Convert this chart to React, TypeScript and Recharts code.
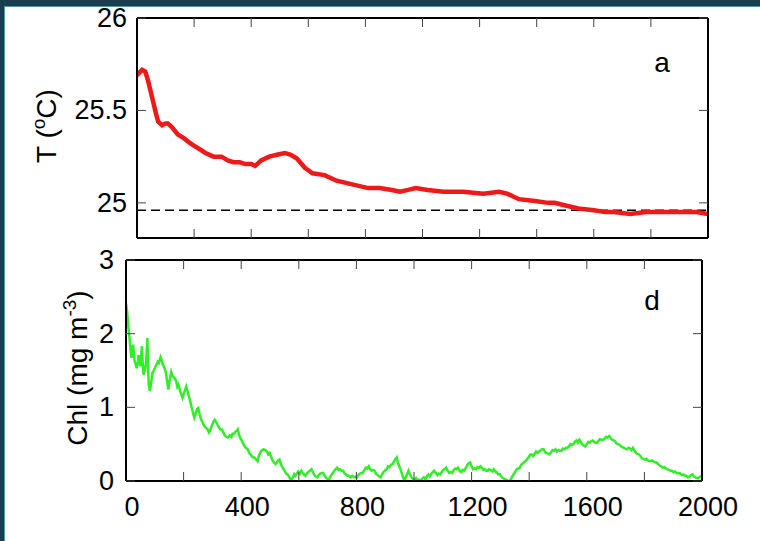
import React from 'react';
import { LineChart, Line, XAxis, YAxis, ReferenceLine } from 'recharts';

const tempDays = [0, 18, 29, 39, 53, 67, 74, 88, 100, 108, 122, 143, 164, 180, 199, 220, 240, 268, 296, 318, 338, 360, 379, 400, 414, 435, 463, 490, 518, 539, 560, 588, 615, 657, 699, 754, 810, 850, 893, 921, 950, 976, 1018, 1074, 1143, 1213, 1268, 1296, 1338, 1394, 1440, 1463, 1490, 1546, 1601, 1640, 1671, 1728, 1782, 1820, 1865, 1921, 1960, 2000];
const tempValues = [25.69, 25.72, 25.71, 25.66, 25.57, 25.48, 25.44, 25.42, 25.43, 25.43, 25.41, 25.37, 25.35, 25.33, 25.31, 25.29, 25.27, 25.25, 25.25, 25.23, 25.22, 25.22, 25.21, 25.21, 25.2, 25.23, 25.25, 25.26, 25.27, 25.26, 25.24, 25.19, 25.16, 25.15, 25.12, 25.1, 25.08, 25.08, 25.07, 25.06, 25.07, 25.08, 25.07, 25.06, 25.06, 25.05, 25.06, 25.05, 25.02, 25.01, 25.0, 25.0, 24.99, 24.97, 24.96, 24.95, 24.95, 24.94, 24.95, 24.95, 24.95, 24.95, 24.95, 24.94];
const tempReference = 24.96;

const chlDays = [0, 4, 8, 12, 16, 19, 22, 25, 28, 30, 34, 37, 41, 44, 47, 50, 53, 55, 58, 61, 65, 69, 72, 74, 77, 79, 83, 88, 92, 97, 102, 106, 110, 114, 120, 124, 127, 132, 138, 142, 147, 152, 157, 162, 168, 174, 178, 182, 188, 192, 196, 202, 209, 215, 219, 223, 228, 233, 237, 243, 247, 251, 256, 260, 264, 270, 274, 278, 284, 288, 292, 297, 303, 308, 313, 318, 324, 328, 333, 338, 343, 348, 354, 360, 366, 370, 375, 380, 385, 388, 393, 397, 402, 408, 414, 419, 423, 428, 433, 438, 444, 450, 457, 462, 468, 473, 478, 484, 490, 494, 499, 505, 510, 515, 519, 524, 528, 533, 537, 541, 547, 552, 556, 561, 566, 570, 574, 580, 584, 588, 593, 598, 604, 609, 614, 618, 623, 628, 633, 638, 644, 649, 654, 659, 664, 669, 675, 680, 685, 690, 695, 700, 705, 710, 716, 722, 727, 733, 738, 743, 748, 754, 759, 764, 769, 774, 780, 786, 792, 797, 802, 807, 812, 817, 822, 828, 833, 838, 843, 848, 853, 858, 863, 868, 874, 879, 884, 889, 894, 899, 905, 910, 915, 920, 926, 931, 936, 940, 944, 949, 953, 958, 963, 967, 972, 977, 981, 986, 991, 996, 1002, 1007, 1012, 1017, 1022, 1028, 1034, 1040, 1045, 1050, 1055, 1060, 1065, 1070, 1076, 1081, 1086, 1091, 1096, 1101, 1107, 1112, 1117, 1122, 1128, 1133, 1138, 1143, 1148, 1153, 1158, 1164, 1169, 1174, 1179, 1184, 1190, 1195, 1200, 1205, 1210, 1215, 1220, 1226, 1231, 1236, 1241, 1246, 1251, 1256, 1261, 1266, 1272, 1277, 1282, 1287, 1292, 1298, 1303, 1308, 1314, 1319, 1324, 1329, 1333, 1338, 1342, 1346, 1352, 1357, 1362, 1367, 1372, 1378, 1383, 1388, 1393, 1399, 1404, 1409, 1414, 1419, 1424, 1429, 1435, 1440, 1445, 1450, 1455, 1461, 1466, 1471, 1476, 1481, 1486, 1491, 1496, 1502, 1507, 1512, 1517, 1522, 1528, 1533, 1538, 1543, 1548, 1553, 1558, 1564, 1569, 1574, 1579, 1584, 1590, 1595, 1600, 1605, 1610, 1615, 1620, 1626, 1631, 1636, 1641, 1646, 1651, 1657, 1662, 1667, 1672, 1678, 1683, 1688, 1693, 1698, 1703, 1708, 1714, 1719, 1724, 1729, 1734, 1740, 1745, 1750, 1755, 1760, 1766, 1771, 1776, 1781, 1786, 1791, 1796, 1802, 1807, 1812, 1817, 1822, 1828, 1833, 1838, 1843, 1848, 1853, 1859, 1864, 1869, 1874, 1879, 1885, 1891, 1896, 1901, 1906, 1911, 1919, 1925, 1930, 1936, 1941, 1946, 1951, 1956, 1962, 1967, 1972, 1977, 1983, 1988, 1994, 2000];
const chlValues = [2.41, 2.3, 2.1, 1.95, 1.78, 1.67, 1.8, 1.85, 1.7, 1.63, 1.58, 1.53, 1.62, 1.71, 1.6, 1.56, 1.7, 1.83, 1.6, 1.44, 1.5, 1.58, 1.75, 1.94, 1.5, 1.31, 1.22, 1.35, 1.47, 1.5, 1.55, 1.58, 1.62, 1.6, 1.68, 1.64, 1.59, 1.55, 1.48, 1.38, 1.24, 1.38, 1.48, 1.42, 1.4, 1.36, 1.28, 1.31, 1.22, 1.18, 1.13, 1.2, 1.28, 1.2, 1.14, 1.08, 1.0, 0.92, 0.86, 0.93, 0.98, 0.99, 0.9, 0.84, 0.81, 0.76, 0.74, 0.72, 0.7, 0.66, 0.68, 0.74, 0.8, 0.83, 0.8, 0.76, 0.72, 0.7, 0.7, 0.66, 0.62, 0.6, 0.59, 0.62, 0.6, 0.64, 0.64, 0.67, 0.68, 0.7, 0.62, 0.58, 0.55, 0.5, 0.46, 0.44, 0.43, 0.38, 0.36, 0.33, 0.32, 0.3, 0.27, 0.35, 0.4, 0.42, 0.43, 0.42, 0.4, 0.36, 0.38, 0.32, 0.27, 0.25, 0.23, 0.25, 0.28, 0.29, 0.24, 0.2, 0.16, 0.13, 0.1, 0.09, 0.06, 0.03, 0.02, 0.05, 0.09, 0.07, 0.1, 0.13, 0.1, 0.14, 0.11, 0.09, 0.07, 0.1, 0.12, 0.14, 0.16, 0.12, 0.08, 0.06, 0.05, 0.08, 0.1, 0.11, 0.11, 0.07, 0.04, 0.03, 0.02, 0.06, 0.1, 0.13, 0.16, 0.18, 0.15, 0.16, 0.14, 0.14, 0.1, 0.09, 0.07, 0.07, 0.05, 0.07, 0.05, 0.06, 0.05, 0.08, 0.1, 0.11, 0.11, 0.15, 0.18, 0.17, 0.2, 0.16, 0.14, 0.15, 0.14, 0.1, 0.08, 0.06, 0.05, 0.09, 0.12, 0.14, 0.16, 0.2, 0.19, 0.22, 0.23, 0.27, 0.3, 0.32, 0.25, 0.2, 0.16, 0.1, 0.04, 0.0, 0.06, 0.1, 0.14, 0.09, 0.05, 0.03, 0.02, 0.04, 0.01, 0.02, 0.0, 0.03, 0.05, 0.02, 0.07, 0.09, 0.06, 0.1, 0.12, 0.14, 0.11, 0.08, 0.1, 0.09, 0.12, 0.15, 0.16, 0.18, 0.14, 0.11, 0.12, 0.11, 0.15, 0.17, 0.16, 0.18, 0.14, 0.12, 0.15, 0.14, 0.17, 0.21, 0.24, 0.25, 0.2, 0.16, 0.17, 0.16, 0.19, 0.18, 0.2, 0.18, 0.15, 0.16, 0.14, 0.14, 0.16, 0.15, 0.13, 0.16, 0.13, 0.12, 0.09, 0.09, 0.06, 0.04, 0.03, 0.02, 0.01, 0.0, 0.0, 0.04, 0.07, 0.09, 0.13, 0.16, 0.17, 0.18, 0.22, 0.24, 0.26, 0.27, 0.3, 0.33, 0.36, 0.36, 0.34, 0.37, 0.4, 0.38, 0.4, 0.42, 0.43, 0.43, 0.39, 0.38, 0.37, 0.36, 0.39, 0.42, 0.41, 0.43, 0.4, 0.42, 0.41, 0.41, 0.44, 0.43, 0.45, 0.45, 0.47, 0.5, 0.49, 0.5, 0.53, 0.55, 0.52, 0.56, 0.53, 0.5, 0.48, 0.47, 0.5, 0.53, 0.52, 0.54, 0.55, 0.53, 0.52, 0.52, 0.55, 0.57, 0.56, 0.56, 0.58, 0.6, 0.59, 0.61, 0.58, 0.56, 0.55, 0.54, 0.51, 0.5, 0.49, 0.47, 0.46, 0.45, 0.44, 0.43, 0.45, 0.44, 0.42, 0.45, 0.41, 0.38, 0.37, 0.36, 0.34, 0.31, 0.3, 0.29, 0.3, 0.28, 0.27, 0.27, 0.28, 0.26, 0.25, 0.25, 0.23, 0.21, 0.2, 0.18, 0.19, 0.17, 0.16, 0.15, 0.14, 0.14, 0.12, 0.13, 0.11, 0.11, 0.1, 0.08, 0.09, 0.07, 0.07, 0.05, 0.06, 0.08, 0.09, 0.06, 0.05, 0.04, 0.04, 0.06, 0.07];

const xTicks = [0, 200, 400, 600, 800, 1000, 1200, 1400, 1600, 1800, 2000];
const xLabelTicks = [0, 400, 800, 1200, 1600, 2000];
const tempTicks = [25, 25.5, 26];
const chlTicks = [0, 1, 2, 3];

const tempData = tempDays.map((d, i) => ({ d, t: tempValues[i] }));
const chlData = chlDays.map((d, i) => ({ d, c: chlValues[i] }));

const FONT = '"Liberation Sans", Arial, Helvetica, sans-serif';
const FS = 27;

const LeftTick = (props: any) => {
  const { x, y, payload } = props;
  return (
    <text x={x} y={y} textAnchor="end" dominantBaseline="central" fontFamily={FONT} fontSize={FS} fill="#000">
      {payload.value}
    </text>
  );
};

const BottomTick = (props: any) => {
  const { x, y, payload } = props;
  if (!xLabelTicks.includes(payload.value)) return <g />;
  return (
    <text x={x + 6} y={y} textAnchor="middle" dominantBaseline="hanging" fontFamily={FONT} fontSize={FS} fill="#000">
      {payload.value}
    </text>
  );
};

const NoTick = () => <g />;

const axisLine = { stroke: '#000', strokeWidth: 2 };
const tickLine = { stroke: '#444', strokeWidth: 1 };

export default function App() {
  return (
    <div style={{ position: 'absolute', left: 0, top: 0, width: 760, height: 541, background: '#fff', overflow: 'hidden' }}>
      <div style={{ position: 'absolute', left: 0, top: 0, width: 760, height: 6, background: '#173f4f' }} />
      <div style={{ position: 'absolute', left: 0, top: 6, width: 760, height: 1, background: '#4d97a8' }} />
      <div style={{ position: 'absolute', left: 0, top: 0, width: 4, height: 541, background: '#173f4f' }} />
      <div style={{ position: 'absolute', left: 4, top: 6, width: 1, height: 535, background: '#4d97a8' }} />

      <div style={{ position: 'absolute', left: 0, top: 0 }}>
        <LineChart width={760} height={541} data={tempData} margin={{ top: 17, right: 51, bottom: 302, left: 0 }}>
          <XAxis xAxisId="b" dataKey="d" type="number" domain={[0, 2000]} ticks={xTicks} orientation="bottom" height={1}
            axisLine={axisLine} tickLine={tickLine} tickSize={-9} tick={NoTick} allowDataOverflow />
          <XAxis xAxisId="t" dataKey="d" type="number" domain={[0, 2000]} ticks={xTicks} orientation="top" height={1}
            axisLine={axisLine} tickLine={tickLine} tickSize={-9} tick={NoTick} allowDataOverflow />
          <YAxis yAxisId="l" type="number" domain={[24.81, 26]} ticks={tempTicks} orientation="left" width={137}
            axisLine={axisLine} tickLine={tickLine} tickSize={-9} tickMargin={19} tick={LeftTick} allowDataOverflow />
          <YAxis yAxisId="r" type="number" domain={[24.81, 26]} ticks={tempTicks} orientation="right" width={1}
            axisLine={axisLine} tickLine={tickLine} tickSize={-9} tick={NoTick} allowDataOverflow />
          <ReferenceLine xAxisId="b" yAxisId="l" y={tempReference} stroke="#000" strokeWidth={1.5} strokeDasharray="9 5" />
          <Line xAxisId="b" yAxisId="l" dataKey="t" type="linear" stroke="#ee1a1a" strokeWidth={4.5} dot={false} isAnimationActive={false} />
        </LineChart>
      </div>

      <div style={{ position: 'absolute', left: 0, top: 0 }}>
        <LineChart width={760} height={541} data={chlData} margin={{ top: 259, right: 57, bottom: 20, left: 0 }}>
          <XAxis xAxisId="b" dataKey="d" type="number" domain={[0, 2000]} ticks={xTicks} orientation="bottom" height={40}
            axisLine={axisLine} tickLine={tickLine} tickSize={-9} tickMargin={25} tick={BottomTick} allowDataOverflow />
          <XAxis xAxisId="t" dataKey="d" type="number" domain={[0, 2000]} ticks={xTicks} orientation="top" height={1}
            axisLine={axisLine} tickLine={tickLine} tickSize={-9} tick={NoTick} allowDataOverflow />
          <YAxis yAxisId="l" type="number" domain={[0, 3]} ticks={chlTicks} orientation="left" width={126}
            axisLine={axisLine} tickLine={tickLine} tickSize={-9} tickMargin={21} tick={LeftTick} allowDataOverflow />
          <YAxis yAxisId="r" type="number" domain={[0, 3]} ticks={chlTicks} orientation="right" width={1}
            axisLine={axisLine} tickLine={tickLine} tickSize={-9} tick={NoTick} allowDataOverflow />
          <Line xAxisId="b" yAxisId="l" dataKey="c" type="linear" stroke="#30ee28" strokeWidth={2.5} dot={false} isAnimationActive={false} />
        </LineChart>
      </div>

      <svg width={760} height={541} style={{ position: 'absolute', left: 0, top: 0, pointerEvents: 'none' }}>
        <text transform="translate(56,126) rotate(-90)" textAnchor="middle" fontFamily={FONT} fontSize={28} fill="#000">
          T (<tspan fontSize={19} dy={-11}>o</tspan><tspan dy={11}>C)</tspan>
        </text>
        <text transform="translate(87,368) rotate(-90)" textAnchor="middle" fontFamily={FONT} fontSize={28} fill="#000">
          Chl (mg m<tspan fontSize={19} dy={-11}>-3</tspan><tspan dy={11}>)</tspan>
        </text>
        <text x={662} y={72} textAnchor="middle" fontFamily={FONT} fontSize={28} fill="#000">a</text>
        <text x={652} y={310} textAnchor="middle" fontFamily={FONT} fontSize={28} fill="#000">d</text>
      </svg>
    </div>
  );
}
